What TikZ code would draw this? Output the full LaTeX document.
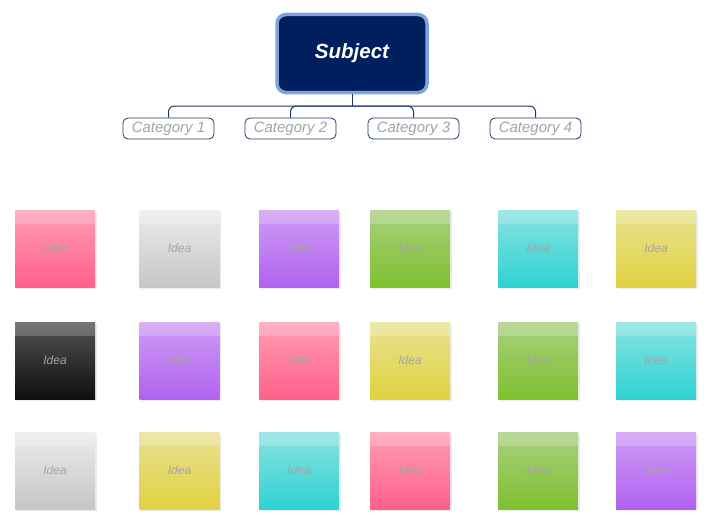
\documentclass[tikz,border=0pt]{standalone}
\usepackage{fontspec}
\setmainfont{Liberation Sans}
\usetikzlibrary{positioning,shadows}
\definecolor{navy}{HTML}{001F5F}
\definecolor{lineblue}{HTML}{1F3864}
\definecolor{rimblue}{HTML}{7FA3DC}
\definecolor{textgray}{HTML}{A4A4A4}
\definecolor{pinkA}{HTML}{FF9DB3}
\definecolor{pinkB}{HTML}{FF6189}
\definecolor{whiteA}{HTML}{ECECEC}
\definecolor{whiteB}{HTML}{C6C6C6}
\definecolor{purpleA}{HTML}{CF9CF3}
\definecolor{purpleB}{HTML}{B062F1}
\definecolor{greenA}{HTML}{A9D07F}
\definecolor{greenB}{HTML}{7EC12F}
\definecolor{cyanA}{HTML}{8AE2E2}
\definecolor{cyanB}{HTML}{2FD2D2}
\definecolor{yellowA}{HTML}{E9E293}
\definecolor{yellowB}{HTML}{E0D140}
\definecolor{blackA}{HTML}{545454}
\definecolor{blackB}{HTML}{0E0E0E}
\begin{document}
\begin{tikzpicture}[x=1pt,y=-1pt,
  subject/.style={draw=rimblue, fill=navy, line width=3.5pt, rounded corners=9pt,
    minimum width=150pt, minimum height=78pt, text=white,
    font=\fontsize{20.5}{24}\selectfont\bfseries\itshape},
  category/.style={draw=lineblue, line width=0.8pt, rounded corners=5pt, fill=white,
    minimum width=91pt, minimum height=21pt, inner sep=0pt, text=textgray,
    font=\fontsize{15}{18}\selectfont\itshape},
  conn/.style={draw=lineblue, line width=1pt, rounded corners=6pt},
  note/.style={minimum width=80pt, minimum height=77pt, inner sep=0pt, text=textgray,
    font=\fontsize{12}{14}\selectfont\itshape,
    drop shadow={opacity=0.15, shadow xshift=1.5pt, shadow yshift=-1.5pt}},
  band/.style={fill=white, opacity=0.2}]
\useasboundingbox (0,0) rectangle (720,527);

\node [subject] (subj) at (352,53.5) {\raisebox{-1.5pt}{Subject}};
\coordinate (hub) at (352,106);
\node [category] (cat1) at (168.5,128.5) {Category 1};
\node [category] (cat2) at (290.5,128.5) {Category 2};
\node [category] (cat3) at (413.5,128.5) {Category 3};
\node [category] (cat4) at (535.5,128.5) {Category 4};
\draw [conn] (subj) -- (hub);
\foreach \c in {1,2,3,4}
  \draw [conn] (hub) -| (cat\c.north);

% sticky notes
\foreach \x/\y/\clr [count=\i] in {
   55/248.5/pink, 179.5/248.5/white, 299/248.5/purple, 410/248.5/green, 538/248.5/cyan, 656/248.5/yellow,
   55/360.5/black, 179.5/360.5/purple, 299/360.5/pink, 410/360.5/yellow, 538/360.5/green, 656/360.5/cyan,
   55/470.5/white, 179.5/470.5/yellow, 299/470.5/cyan, 410/470.5/pink, 538/470.5/green, 656/470.5/purple}
{
  \node [note, top color=\clr A, bottom color=\clr B] (note\i) at (\x,\y) {Idea};
  \fill [band] (note\i.north west) rectangle ([yshift=-14pt]note\i.north east);
}
\end{tikzpicture}
\end{document}
